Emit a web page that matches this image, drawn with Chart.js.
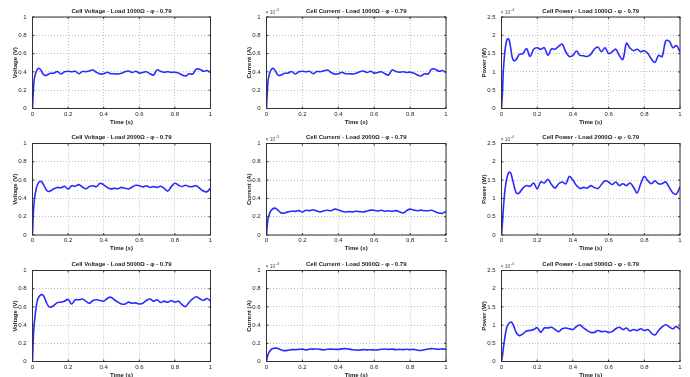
<!DOCTYPE html>
<html lang="en">
<head>
<meta charset="UTF-8">
<title>Cell Voltage / Current / Power</title>
<script src="https://cdn.jsdelivr.net/npm/chart.js"></script>
<style>
  html, body { margin: 0; padding: 0; background: #fff; }
  #wrap { position: relative; width: 690px; height: 377px; overflow: hidden; }
  #wrap canvas { position: absolute; }
</style>
</head>
<body>
<div id="wrap"></div>
<script>
// time axis (s)
const time = [0, 0.005, 0.01, 0.02, 0.03, 0.04, 0.05, 0.06, 0.07, 0.08, 0.09, 0.10,
  0.12, 0.14, 0.16, 0.18, 0.20, 0.22, 0.24, 0.26, 0.28, 0.30, 0.32, 0.34, 0.36, 0.38,
  0.40, 0.42, 0.44, 0.46, 0.48, 0.50, 0.52, 0.54, 0.56, 0.58, 0.60, 0.62, 0.64, 0.66, 0.68,
  0.70, 0.72, 0.74, 0.76, 0.78, 0.80, 0.82, 0.84, 0.86, 0.88, 0.90, 0.92, 0.94, 0.96, 0.98, 1.00];

// load 1000 ohm
const voltage1000 = [0, 0.20, 0.32, 0.40, 0.434, 0.436, 0.41, 0.375, 0.36, 0.365, 0.375, 0.385,
  0.387, 0.405, 0.377, 0.402, 0.407, 0.402, 0.407, 0.38, 0.404, 0.402, 0.412, 0.42, 0.394, 0.377,
  0.38, 0.396, 0.38, 0.38, 0.377, 0.385, 0.402, 0.41, 0.394, 0.407, 0.387, 0.394, 0.402, 0.38, 0.366,
  0.422, 0.406, 0.397, 0.402, 0.394, 0.397, 0.387, 0.367, 0.355, 0.38, 0.377, 0.43, 0.429, 0.407, 0.415, 0.394];
const current1000 = [0, 0.20, 0.32, 0.40, 0.434, 0.436, 0.41, 0.375, 0.36, 0.365, 0.375, 0.385,
  0.387, 0.405, 0.377, 0.402, 0.407, 0.402, 0.407, 0.38, 0.404, 0.402, 0.412, 0.42, 0.394, 0.377,
  0.38, 0.396, 0.38, 0.38, 0.377, 0.385, 0.402, 0.41, 0.394, 0.407, 0.387, 0.394, 0.402, 0.38, 0.366,
  0.422, 0.406, 0.397, 0.402, 0.394, 0.397, 0.387, 0.367, 0.355, 0.38, 0.377, 0.43, 0.429, 0.407, 0.415, 0.394];
const power1000 = [0, 0.4, 1.0, 1.6, 1.88, 1.9, 1.7, 1.4, 1.3, 1.33, 1.4, 1.48,
  1.5, 1.64, 1.42, 1.62, 1.66, 1.62, 1.66, 1.45, 1.63, 1.62, 1.70, 1.76, 1.55, 1.42,
  1.45, 1.57, 1.45, 1.44, 1.42, 1.48, 1.62, 1.68, 1.55, 1.66, 1.50, 1.55, 1.62, 1.45, 1.34,
  1.78, 1.65, 1.58, 1.62, 1.55, 1.58, 1.50, 1.35, 1.26, 1.45, 1.42, 1.85, 1.84, 1.66, 1.72, 1.55];

// load 2000 ohm
const voltage2000 = [0, 0.245, 0.374, 0.50, 0.557, 0.583, 0.585, 0.557, 0.52, 0.486, 0.475, 0.48,
  0.506, 0.52, 0.516, 0.533, 0.502, 0.539, 0.533, 0.551, 0.525, 0.506, 0.529, 0.539, 0.529, 0.566,
  0.548, 0.52, 0.504, 0.51, 0.506, 0.52, 0.51, 0.504, 0.525, 0.544, 0.539, 0.525, 0.539, 0.52, 0.529,
  0.52, 0.533, 0.51, 0.48, 0.529, 0.566, 0.544, 0.529, 0.544, 0.529, 0.529, 0.539, 0.51, 0.48, 0.473, 0.514];
const current2000 = [0, 0.122, 0.187, 0.25, 0.278, 0.291, 0.292, 0.278, 0.26, 0.243, 0.237, 0.24,
  0.253, 0.26, 0.258, 0.266, 0.251, 0.27, 0.266, 0.276, 0.262, 0.253, 0.265, 0.27, 0.265, 0.283,
  0.274, 0.26, 0.252, 0.255, 0.253, 0.26, 0.255, 0.252, 0.262, 0.272, 0.27, 0.262, 0.27, 0.26, 0.265,
  0.26, 0.266, 0.255, 0.24, 0.265, 0.283, 0.272, 0.265, 0.272, 0.265, 0.265, 0.27, 0.255, 0.24, 0.237, 0.257];
const power2000 = [0, 0.3, 0.7, 1.25, 1.55, 1.70, 1.71, 1.55, 1.35, 1.18, 1.13, 1.15,
  1.28, 1.35, 1.33, 1.42, 1.26, 1.45, 1.42, 1.52, 1.38, 1.28, 1.40, 1.45, 1.40, 1.60,
  1.50, 1.35, 1.27, 1.30, 1.28, 1.35, 1.30, 1.27, 1.38, 1.48, 1.45, 1.38, 1.45, 1.35, 1.40,
  1.35, 1.42, 1.30, 1.15, 1.40, 1.60, 1.48, 1.40, 1.48, 1.40, 1.40, 1.45, 1.30, 1.15, 1.12, 1.32];

// load 5000 ohm
const voltage5000 = [0, 0.274, 0.418, 0.592, 0.689, 0.721, 0.735, 0.728, 0.689, 0.64, 0.608, 0.596,
  0.616, 0.648, 0.652, 0.663, 0.682, 0.632, 0.678, 0.678, 0.686, 0.663, 0.64, 0.671, 0.678, 0.671,
  0.663, 0.693, 0.707, 0.678, 0.652, 0.632, 0.632, 0.652, 0.64, 0.644, 0.632, 0.64, 0.671, 0.686, 0.663,
  0.678, 0.648, 0.663, 0.652, 0.671, 0.652, 0.663, 0.624, 0.604, 0.652, 0.689, 0.711, 0.689, 0.671, 0.693, 0.663];
const current5000 = [0, 0.055, 0.084, 0.118, 0.138, 0.144, 0.147, 0.146, 0.138, 0.128, 0.122, 0.119,
  0.123, 0.13, 0.13, 0.133, 0.136, 0.126, 0.136, 0.136, 0.137, 0.133, 0.128, 0.134, 0.136, 0.134,
  0.133, 0.139, 0.141, 0.136, 0.13, 0.126, 0.126, 0.13, 0.128, 0.129, 0.126, 0.128, 0.134, 0.137, 0.133,
  0.136, 0.13, 0.133, 0.13, 0.134, 0.13, 0.133, 0.125, 0.121, 0.13, 0.138, 0.142, 0.138, 0.134, 0.139, 0.133];
const power5000 = [0, 0.15, 0.35, 0.7, 0.95, 1.04, 1.08, 1.06, 0.95, 0.82, 0.74, 0.71,
  0.76, 0.84, 0.85, 0.88, 0.93, 0.80, 0.92, 0.92, 0.94, 0.88, 0.82, 0.90, 0.92, 0.90,
  0.88, 0.96, 1.0, 0.92, 0.85, 0.80, 0.80, 0.85, 0.82, 0.83, 0.80, 0.82, 0.90, 0.94, 0.88,
  0.92, 0.84, 0.88, 0.85, 0.90, 0.85, 0.88, 0.78, 0.73, 0.85, 0.95, 1.01, 0.95, 0.90, 0.96, 0.88];

const loads = ['1000', '2000', '5000'];
const quantities = ['Voltage', 'Current', 'Power'];
const yTitles = ['Voltage (V)', 'Current (A)', 'Power (W)'];
const yMax = [1, 1, 2.5];
const yStep = [0.2, 0.2, 0.5];
const exponents = ['', '-3', '-4'];
const series = [
  [voltage1000, current1000, power1000],
  [voltage2000, current2000, power2000],
  [voltage5000, current5000, power5000]
];

// layout (px)
const colLeft = [0, 230, 460];
const rowTop = [0, 126, 252];
const rowH = [126, 126, 125];
const areaLeft = [32.5, 36.5, 41.5];
const areaRight = [210.5, 216, 220];
const areaTop = [17, 17.5, 18.5];
const areaBottom = [108.5, 109, 109.5];

const FONT = '"Liberation Sans", Arial, sans-serif';
const fmt = v => String(+v.toFixed(2));

const frame = {
  id: 'frame',
  afterDraw(chart, args, o) {
    const { ctx, chartArea: a, scales } = chart;
    ctx.save();
    ctx.strokeStyle = '#333';
    ctx.lineWidth = 1;
    ctx.strokeRect(a.left, a.top, a.right - a.left, a.bottom - a.top);
    ctx.beginPath();
    scales.x.ticks.forEach(t => {
      const x = scales.x.getPixelForValue(t.value);
      ctx.moveTo(x, a.bottom); ctx.lineTo(x, a.bottom - 2);
      ctx.moveTo(x, a.top); ctx.lineTo(x, a.top + 2);
    });
    scales.y.ticks.forEach(t => {
      const y = scales.y.getPixelForValue(t.value);
      ctx.moveTo(a.left, y); ctx.lineTo(a.left + 2, y);
      ctx.moveTo(a.right, y); ctx.lineTo(a.right - 2, y);
    });
    ctx.stroke();

    ctx.fillStyle = '#222';
    ctx.textAlign = 'center';
    ctx.textBaseline = 'middle';
    ctx.font = 'bold 6px ' + FONT;
    ctx.fillText(o.title, (a.left + a.right) / 2, a.top - 6);
    ctx.fillText('Time (s)', (a.left + a.right) / 2, a.bottom + 13.5);
    ctx.save();
    ctx.translate(a.left - 17.5, (a.top + a.bottom) / 2);
    ctx.rotate(-Math.PI / 2);
    ctx.fillText(o.yTitle, 0, 0);
    ctx.restore();

    if (o.exp) {
      ctx.fillStyle = '#555';
      ctx.textAlign = 'left';
      ctx.textBaseline = 'alphabetic';
      ctx.font = '5px ' + FONT;
      ctx.fillText('\u00d7 10', a.left - 1, a.top - 3);
      const w = ctx.measureText('\u00d7 10').width;
      ctx.font = '4px ' + FONT;
      ctx.fillText(o.exp, a.left - 1 + w + 0.3, a.top - 6);
    }
    ctx.restore();
  }
};

const wrap = document.getElementById('wrap');

for (let r = 0; r < 3; r++) {
  for (let c = 0; c < 3; c++) {
    const cv = document.createElement('canvas');
    cv.width = 230;
    cv.height = rowH[r];
    cv.style.left = colLeft[c] + 'px';
    cv.style.top = rowTop[r] + 'px';
    wrap.appendChild(cv);

    const vals = series[r][c];
    const pts = time.map((t, i) => ({ x: t, y: vals[i] }));
    const xH = rowH[r] - areaBottom[r];
    const yW = areaLeft[c];

    new Chart(cv.getContext('2d'), {
      type: 'line',
      data: {
        datasets: [{
          data: pts,
          borderColor: '#2a2aff',
          borderWidth: 1.6,
          pointRadius: 0,
          tension: 0.35,
          fill: false
        }]
      },
      options: {
        responsive: false,
        animation: false,
        devicePixelRatio: 1,
        layout: { padding: { left: 0, top: areaTop[r], right: 230 - areaRight[c], bottom: 0 } },
        plugins: {
          legend: { display: false },
          tooltip: { enabled: false },
          frame: {
            title: 'Cell ' + quantities[c] + ' - Load ' + loads[r] + '\u03a9 - \u03c6 - 0.79',
            yTitle: yTitles[c],
            exp: exponents[c]
          }
        },
        scales: {
          x: {
            type: 'linear',
            min: 0, max: 1,
            afterFit: s => { s.height = xH; },
            ticks: { stepSize: 0.2, autoSkip: false, maxRotation: 0, padding: 2, callback: fmt,
                     color: '#222', font: { family: FONT, size: 6 } },
            grid: { color: '#b0b0b0', lineWidth: 0.8, drawTicks: false },
            border: { display: false, dash: [1, 2] }
          },
          y: {
            min: 0, max: yMax[c],
            afterFit: s => { s.width = yW; },
            ticks: { stepSize: yStep[c], autoSkip: false, padding: 6, callback: fmt,
                     color: '#222', font: { family: FONT, size: 6 } },
            grid: { color: '#b0b0b0', lineWidth: 0.8, drawTicks: false },
            border: { display: false, dash: [1, 2] }
          }
        }
      },
      plugins: [frame]
    });
  }
}
</script>
</body>
</html>
